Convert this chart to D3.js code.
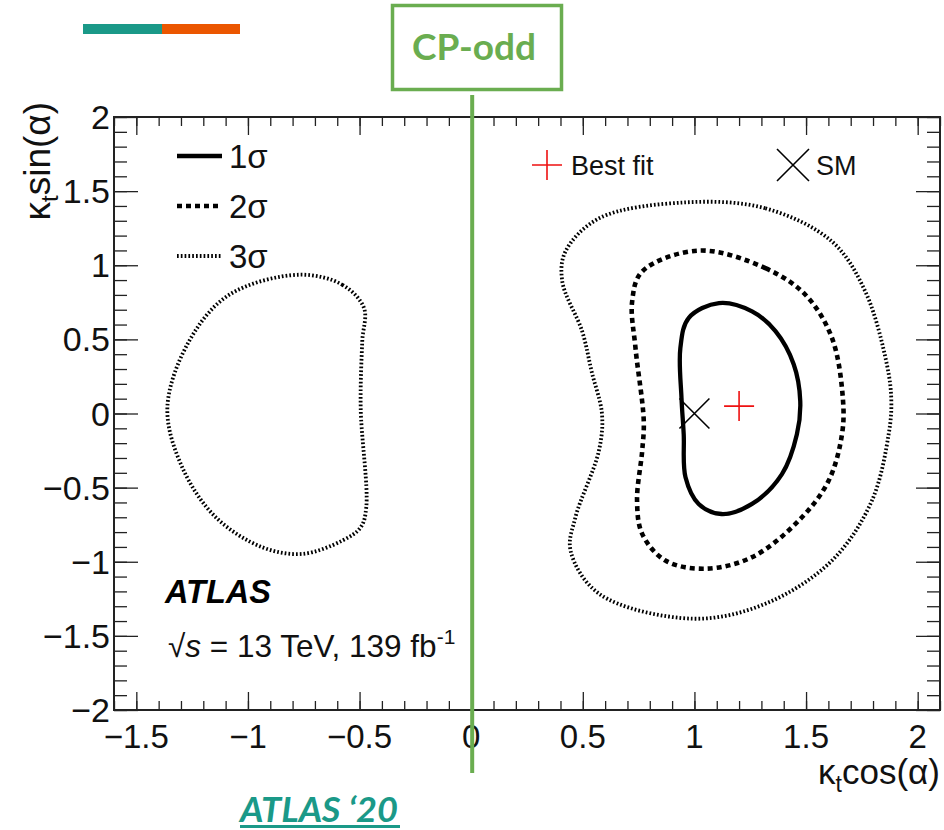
<!DOCTYPE html>
<html><head><meta charset="utf-8">
<script src="https://cdn.jsdelivr.net/npm/d3@7"></script>
<style>body{margin:0;background:#fff}</style>
</head><body>
<svg id="c" width="944" height="830"></svg>
<script>
// ---- data (in axis units) ----
const xDomain = [-1.6, 2.1];
const yDomain = [-2, 2];
const xMajorTicks = [-1.5, -1, -0.5, 0, 0.5, 1, 1.5, 2];
const xTickLabels = ["\u22121.5", "\u22121", "\u22120.5", "0", "0.5", "1", "1.5", "2"];
const yMajorTicks = [2, 1.5, 1, 0.5, 0, -0.5, -1, -1.5, -2];
const yTickLabels = ["2", "1.5", "1", "0.5", "0", "\u22120.5", "\u22121", "\u22121.5", "\u22122"];
const contour1s = [[1.11,0.745],[1.258,0.689],[1.363,0.555],[1.445,0.331],[1.474,0.084],[1.459,-0.14],[1.392,-0.409],[1.258,-0.61],[1.121,-0.678],[1.019,-0.61],[0.96,-0.43],[0.952,-0.14],[0.942,0.106],[0.937,0.442],[0.974,0.644]];
const contour2s = [[1.019,1.099],[1.318,0.98],[1.497,0.801],[1.616,0.51],[1.665,0.1],[1.661,-0.14],[1.601,-0.454],[1.467,-0.723],[1.258,-0.969],[1.049,-1.047],[0.87,-0.992],[0.766,-0.812],[0.743,-0.588],[0.766,-0.252],[0.773,-0.05],[0.736,0.442],[0.721,0.756],[0.766,0.958]];
const contour3sRight = [[0.96,1.424],[1.318,1.384],[1.616,1.16],[1.765,0.824],[1.862,0.331],[1.882,0.084],[1.87,-0.14],[1.795,-0.588],[1.616,-0.992],[1.318,-1.283],[0.989,-1.384],[0.572,-1.215],[0.445,-0.924],[0.467,-0.70],[0.572,-0.252],[0.586,-0.005],[0.54,0.28],[0.497,0.555],[0.408,0.891],[0.422,1.092],[0.572,1.316]];
const contour3sLeft = [[-0.771,0.936],[-0.577,0.868],[-0.48,0.711],[-0.488,0.487],[-0.495,0.039],[-0.47,-0.633],[-0.495,-0.768],[-0.577,-0.857],[-0.757,-0.947],[-0.936,-0.902],[-1.144,-0.70],[-1.294,-0.364],[-1.361,0.039],[-1.264,0.487],[-1.085,0.80]];
const bestFit = [1.2, 0.05];
const smPoint = [1.0, 0.0];
const cpOddX = 0;
const legendLabels = ["1\u03c3", "2\u03c3", "3\u03c3"];

// ---- layout ----
const svg = d3.select("#c");
const L = 114, R = 940, T = 117, B = 710;
const x = d3.scaleLinear().domain(xDomain).range([L, R]);
const y = d3.scaleLinear().domain(yDomain).range([B, T]);
const font = "'Liberation Sans', Arial, Helvetica, sans-serif";
const lato = "Lato, 'Open Sans', sans-serif";

// top decoration bar
svg.append("rect").attr("x",83).attr("y",24).attr("width",79).attr("height",10).attr("fill","#1a9988");
svg.append("rect").attr("x",162).attr("y",24).attr("width",78).attr("height",10).attr("fill","#eb5600");

// axes with minor ticks
const xMinor = d3.range(-1.6, 2.1001, 0.1).map(v => +v.toFixed(2));
const yMinor = d3.range(-2, 2.0001, 0.1).map(v => +v.toFixed(2));
const g = svg.append("g");
function addAxis(makeAxis, transform, major, minor, minLen, majLen){
  const gm = g.append("g").attr("transform", transform);
  gm.call(makeAxis().tickValues(minor).tickSize(minLen).tickFormat(""));
  const gM = g.append("g").attr("transform", transform);
  gM.call(makeAxis().tickValues(major).tickSize(majLen).tickFormat(""));
  [gm,gM].forEach(s=>{ s.selectAll("path").remove(); s.selectAll("text").remove(); s.selectAll("line").attr("stroke","#222").attr("stroke-width",1.3); });
}
addAxis(()=>d3.axisTop(x), `translate(0,${B})`, xMajorTicks, xMinor, 9, 18);
addAxis(()=>d3.axisBottom(x), `translate(0,${T})`, xMajorTicks, xMinor, 9, 18);
addAxis(()=>d3.axisRight(y), `translate(${L},0)`, yMajorTicks, yMinor, 13, 24);
addAxis(()=>d3.axisLeft(y), `translate(${R},0)`, yMajorTicks, yMinor, 13, 24);
// tick labels
svg.append("g").selectAll("text").data(xMajorTicks).join("text")
  .attr("x", d => x(d)).attr("y", 748).attr("text-anchor","middle")
  .attr("font-family", font).attr("font-size", 33).attr("fill","#111")
  .text((d,i)=>xTickLabels[i]);
svg.append("g").selectAll("text").data(yMajorTicks).join("text")
  .attr("x", 110).attr("y", d => y(d) + 12).attr("text-anchor","end")
  .attr("font-family", font).attr("font-size", 34).attr("fill","#111")
  .text((d,i)=>yTickLabels[i]);
// frame
svg.append("rect").attr("x",L).attr("y",T).attr("width",R-L).attr("height",B-T)
  .attr("fill","none").attr("stroke","#222").attr("stroke-width",2);

// axis titles
const xt = svg.append("text").attr("x", 940).attr("y", 784).attr("text-anchor","end")
  .attr("font-family", font).attr("font-size", 35).attr("fill","#111");
xt.append("tspan").text("\u03ba");
xt.append("tspan").attr("font-size",23).attr("dy",8).text("t");
xt.append("tspan").attr("dy",-8).text("cos(\u03b1)");
const yt = svg.append("text").attr("transform","translate(50,102) rotate(-90)").attr("text-anchor","end")
  .attr("font-family", font).attr("font-size", 37).attr("fill","#111");
yt.append("tspan").text("\u03ba");
yt.append("tspan").attr("font-size",24).attr("dy",8).text("t");
yt.append("tspan").attr("dy",-8).text("sin(\u03b1)");

// contours
const line = d3.line().x(d=>x(d[0])).y(d=>y(d[1])).curve(d3.curveCatmullRomClosed.alpha(0.5));
const styles = [
  {w:4.3, dash:null},
  {w:4.6, dash:"5,4"},
  {w:3.8, dash:"1.7,2.1"}
];
const cg = svg.append("g").attr("fill","none").attr("stroke","#000");
cg.append("path").attr("d", line(contour3sLeft)).attr("stroke-width",styles[2].w).attr("stroke-dasharray",styles[2].dash);
cg.append("path").attr("d", line(contour3sRight)).attr("stroke-width",styles[2].w).attr("stroke-dasharray",styles[2].dash);
cg.append("path").attr("d", line(contour2s)).attr("stroke-width",styles[1].w).attr("stroke-dasharray",styles[1].dash);
cg.append("path").attr("d", line(contour1s)).attr("stroke-width",styles[0].w);

// markers
function plus(px,py,h,color){
  svg.append("path").attr("d",`M${px-h},${py}H${px+h}M${px},${py-h}V${py+h}`).attr("stroke",color).attr("stroke-width",1.6).attr("fill","none");
}
function cross(px,py,h,color){
  svg.append("path").attr("d",`M${px-h},${py-h}L${px+h},${py+h}M${px-h},${py+h}L${px+h},${py-h}`).attr("stroke",color).attr("stroke-width",1.6).attr("fill","none");
}
plus(x(bestFit[0]), y(bestFit[1]), 15, "#ee1111");
cross(x(smPoint[0]), y(smPoint[1]), 15, "#000");

// legend
const legY = [156, 206, 256];
legendLabels.forEach((lab,i)=>{
  svg.append("line").attr("x1",177).attr("x2",222).attr("y1",legY[i]).attr("y2",legY[i])
    .attr("stroke","#000").attr("stroke-width",styles[i].w).attr("stroke-dasharray",styles[i].dash);
  svg.append("text").attr("x",229).attr("y",legY[i]+12).attr("font-family",font).attr("font-size",33).attr("fill","#111").text(lab);
});
plus(547, 165, 15, "#ee1111");
svg.append("text").attr("x",571).attr("y",175).attr("font-family",font).attr("font-size",27).attr("fill","#111").text("Best fit");
cross(793, 165, 16, "#000");
svg.append("text").attr("x",816).attr("y",175).attr("font-family",font).attr("font-size",27).attr("fill","#111").text("SM");

// ATLAS label
svg.append("text").attr("x",165).attr("y",603).attr("font-family",font).attr("font-size",32.5)
  .attr("font-weight","bold").attr("font-style","italic").attr("fill","#000").text("ATLAS");
const en = svg.append("text").attr("x",168).attr("y",657).attr("font-family",font).attr("font-size",31.5).attr("fill","#111");
en.append("tspan").text("\u221a");
en.append("tspan").attr("font-style","italic").text("s");
en.append("tspan").text(" = 13 TeV, 139 fb");
en.append("tspan").attr("font-size",21).attr("dy",-13).text("-1");

// CP-odd annotation
svg.append("line").attr("x1",x(cpOddX)+1).attr("x2",x(cpOddX)+1).attr("y1",95).attr("y2",773)
  .attr("stroke","#6aad50").attr("stroke-width",4);
svg.append("rect").attr("x",392.5).attr("y",5.5).attr("width",169).attr("height",84)
  .attr("fill","#fff").attr("stroke","#6aad50").attr("stroke-width",3.5);
svg.append("text").attr("x",474).attr("y",60).attr("text-anchor","middle").attr("font-family",lato)
  .attr("font-weight","bold").attr("font-size",37).attr("fill","#6aad50").text("CP-odd");

// bottom reference
svg.append("text").attr("x",240).attr("y",822).attr("font-family",lato).attr("font-weight","bold")
  .attr("font-style","italic").attr("font-size",34).attr("textLength",158).attr("lengthAdjust","spacingAndGlyphs")
  .attr("fill","#1a9988").text("ATLAS \u201820");
svg.append("rect").attr("x",240).attr("y",825).attr("width",160).attr("height",3).attr("fill","#1a9988");
</script>
</body></html>
